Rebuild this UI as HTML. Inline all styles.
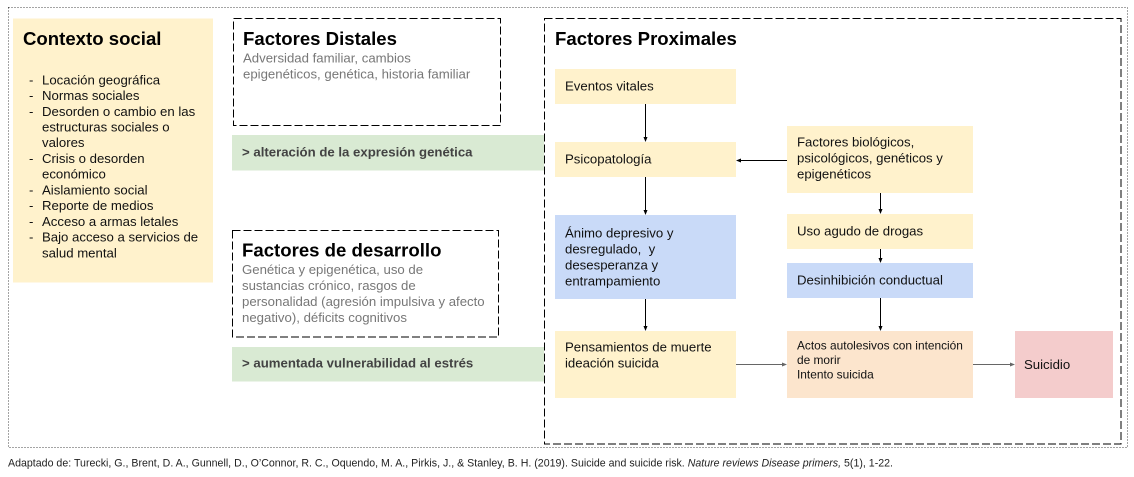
<!DOCTYPE html>
<html>
<head>
<meta charset="utf-8">
<style>
  html, body { margin:0; padding:0; background:#fff; }
  svg { display:block; }
  text { font-family: "Liberation Sans", Arial, sans-serif; }
</style>
</head>
<body>
<svg width="1134" height="477" viewBox="0 0 1134 477" xmlns="http://www.w3.org/2000/svg">
  <rect x="0" y="0" width="1134" height="477" fill="#ffffff"/>

  <!-- outer dotted frame -->
  <rect x="8.5" y="7.5" width="1119" height="440" fill="none" stroke="#4a4a4a" stroke-width="1" stroke-dasharray="1 2"/>

  <!-- Contexto social -->
  <rect x="13" y="18.5" width="200" height="264" fill="#fff2cc"/>
  <text x="23" y="45" font-size="18.6" font-weight="bold" fill="#000">Contexto social</text>
  <g font-size="13.2" fill="#111">
    <text x="29" y="84.3">-</text><text x="42" y="84.3">Locación geográfica</text>
    <text x="29" y="100">-</text><text x="42" y="100">Normas sociales</text>
    <text x="29" y="115.8">-</text><text x="42" y="115.8">Desorden o cambio en las</text>
    <text x="42" y="131.5">estructuras sociales o</text>
    <text x="42" y="147.2">valores</text>
    <text x="29" y="162.9">-</text><text x="42" y="162.9">Crisis o desorden</text>
    <text x="42" y="178.7">económico</text>
    <text x="29" y="194.4">-</text><text x="42" y="194.4">Aislamiento social</text>
    <text x="29" y="210.1">-</text><text x="42" y="210.1">Reporte de medios</text>
    <text x="29" y="225.9">-</text><text x="42" y="225.9">Acceso a armas letales</text>
    <text x="29" y="241.6">-</text><text x="42" y="241.6">Bajo acceso a servicios de</text>
    <text x="42" y="257.3">salud mental</text>
  </g>

  <!-- Factores Distales -->
  <rect x="233.5" y="18.5" width="267" height="107" fill="none" stroke="#000" stroke-width="1" stroke-dasharray="8 3"/>
  <text x="243" y="45" font-size="18.6" font-weight="bold" fill="#000">Factores Distales</text>
  <g font-size="13.2" fill="#777777">
    <text x="243" y="62.7">Adversidad familiar, cambios</text>
    <text x="243" y="78.5">epigenéticos, genética, historia familiar</text>
  </g>

  <!-- green band 1 -->
  <rect x="232" y="135" width="312" height="35.5" fill="#d9ead3"/>
  <text x="242" y="156.7" font-size="13.2" font-weight="bold" fill="#434343">&gt; alteración de la expresión genética</text>

  <!-- Factores de desarrollo -->
  <rect x="232.5" y="230.5" width="266" height="106.5" fill="none" stroke="#000" stroke-width="1" stroke-dasharray="8 3"/>
  <text x="242" y="256.7" font-size="18.6" font-weight="bold" fill="#000">Factores de desarrollo</text>
  <g font-size="13.2" fill="#777777">
    <text x="242" y="274">Genética y epigenética, uso de</text>
    <text x="242" y="290">sustancias crónico, rasgos de</text>
    <text x="242" y="306">personalidad (agresión impulsiva y afecto</text>
    <text x="242" y="322">negativo), déficits cognitivos</text>
  </g>

  <!-- green band 2 -->
  <rect x="232" y="347" width="312" height="34.5" fill="#d9ead3"/>
  <text x="242" y="367.7" font-size="13.2" font-weight="bold" fill="#434343">&gt; aumentada vulnerabilidad al estrés</text>

  <!-- Factores Proximales -->
  <rect x="544.5" y="18.5" width="576.5" height="425.5" fill="none" stroke="#000" stroke-width="1" stroke-dasharray="8 3"/>
  <text x="555" y="45" font-size="18.6" font-weight="bold" fill="#000">Factores Proximales</text>

  <!-- boxes -->
  <rect x="555" y="69" width="181" height="35" fill="#fff2cc"/>
  <rect x="555" y="142" width="181" height="35" fill="#fff2cc"/>
  <rect x="555" y="215" width="181" height="84" fill="#c9daf8"/>
  <rect x="555" y="331" width="181" height="67" fill="#fff2cc"/>
  <rect x="787" y="126" width="186" height="67" fill="#fff2cc"/>
  <rect x="787" y="214" width="186" height="35" fill="#fff2cc"/>
  <rect x="787" y="263" width="186" height="35" fill="#c9daf8"/>
  <rect x="787" y="331" width="186" height="67" fill="#fce5cd"/>
  <rect x="1015" y="331" width="98" height="67" fill="#f4cccc"/>

  <g font-size="13.2" fill="#111">
    <text x="565" y="90.7">Eventos vitales</text>
    <text x="565" y="163.3">Psicopatología</text>
    <text x="565" y="237.3">Ánimo depresivo y</text>
    <text x="565" y="253.3">desregulado,&#160; y</text>
    <text x="565" y="269.3">desesperanza y</text>
    <text x="565" y="285.3">entrampamiento</text>
    <text x="565" y="351.7">Pensamientos de muerte</text>
    <text x="565" y="367.7">ideación suicida</text>
    <text x="797" y="146.7">Factores biológicos,</text>
    <text x="797" y="162.7">psicológicos, genéticos y</text>
    <text x="797" y="178.7">epigenéticos</text>
    <text x="797" y="235.5">Uso agudo de drogas</text>
    <text x="797" y="284.3">Desinhibición conductual</text>
    <text x="1024" y="369">Suicidio</text>
  </g>
  <g font-size="11.9" fill="#111">
    <text x="797" y="349.5">Actos autolesivos con intención</text>
    <text x="797" y="364">de morir</text>
    <text x="797" y="378.5">Intento suicida</text>
  </g>

  <!-- arrows (black) -->
  <g stroke="#000" stroke-width="1" fill="none">
    <line x1="645.5" y1="104" x2="645.5" y2="138"/>
    <line x1="645.5" y1="177" x2="645.5" y2="211"/>
    <line x1="645.5" y1="299" x2="645.5" y2="327"/>
    <line x1="787" y1="160.5" x2="740" y2="160.5"/>
    <line x1="880.5" y1="193" x2="880.5" y2="210"/>
    <line x1="880.5" y1="249" x2="880.5" y2="259"/>
    <line x1="880.5" y1="298" x2="880.5" y2="327"/>
  </g>
  <g fill="#000">
    <polygon points="643.5,137 647.5,137 645.5,142"/>
    <polygon points="643.5,210 647.5,210 645.5,215"/>
    <polygon points="643.5,326 647.5,326 645.5,331"/>
    <polygon points="741,158.5 741,162.5 736,160.5"/>
    <polygon points="878.5,209 882.5,209 880.5,214"/>
    <polygon points="878.5,258 882.5,258 880.5,263"/>
    <polygon points="878.5,326 882.5,326 880.5,331"/>
  </g>
  <!-- arrows (gray) -->
  <g stroke="#666" stroke-width="1">
    <line x1="736" y1="364.5" x2="783" y2="364.5"/>
    <line x1="973" y1="364.5" x2="1011" y2="364.5"/>
  </g>
  <g fill="#666">
    <polygon points="782,362.5 782,366.5 787,364.5"/>
    <polygon points="1010,362.5 1010,366.5 1015,364.5"/>
  </g>

  <!-- footer -->
  <text x="8" y="466.5" font-size="10.6" fill="#222" textLength="885" lengthAdjust="spacing">Adaptado de: Turecki, G., Brent, D. A., Gunnell, D., O’Connor, R. C., Oquendo, M. A., Pirkis, J., &amp; Stanley, B. H. (2019). Suicide and suicide risk. <tspan font-style="italic">Nature reviews Disease primers,</tspan> 5(1), 1-22.</text>
</svg>
</body>
</html>
